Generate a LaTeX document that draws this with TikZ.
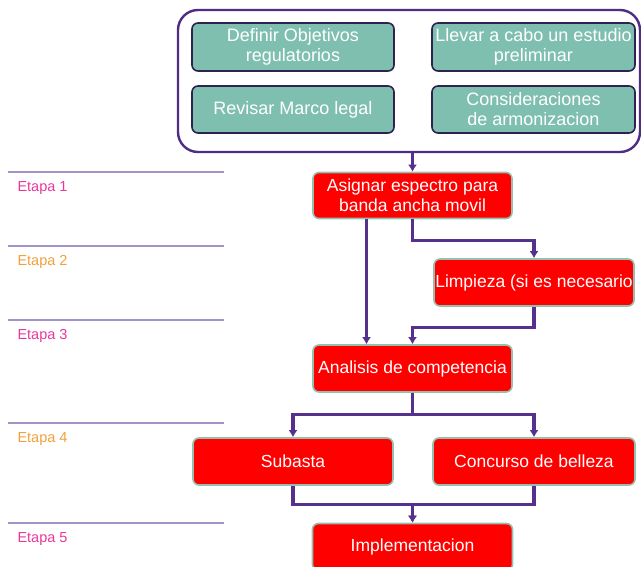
\documentclass[tikz,border=0pt]{standalone}
\usepackage{fontspec}
\setmainfont{Liberation Sans}
\usetikzlibrary{arrows.meta}

\definecolor{moradoflecha}{HTML}{55308C}
\definecolor{morado}{HTML}{4E2D84}
\definecolor{verdecaja}{HTML}{7FBFAF}
\definecolor{bordeoscuro}{HTML}{2C2350}
\definecolor{bordeclaro}{HTML}{95C0AE}
\definecolor{rosa}{HTML}{E8379A}
\definecolor{naranja}{HTML}{F0A03C}
\definecolor{lavanda}{HTML}{A393C8}

\tikzset{
	tarea/.style = {rectangle, rounded corners = 6pt, fill = verdecaja, draw = bordeoscuro, line width = 1.6pt,
		text = white, align = center, minimum height = 48pt, inner sep = 1pt,
		font = \fontsize{18}{20}\selectfont},
	paso/.style = {rectangle, rounded corners = 6pt, fill = red, draw = bordeclaro, line width = 1.6pt,
		text = white, align = center, minimum height = 46pt, inner sep = 1pt,
		font = \fontsize{17.5}{20}\selectfont},
	flecha/.style = {->, draw = moradoflecha, line width = 3.2pt},
}

\begin{document}
\begin{tikzpicture}[x = 1pt, y = -1pt, > = {Latex[length = 7pt, width = 9pt]}]

	\useasboundingbox (0, 0) rectangle (641, 567);
	\clip (0, 0) rectangle (641, 567);

	% Stage lines and labels

	\foreach \y / \n / \c in {172/1/rosa, 246/2/naranja, 320/3/rosa, 423/4/naranja, 523/5/rosa} {
		\draw [lavanda, line width = 1.3pt] (8, \y) -- (224, \y);
		\node [anchor = west, text = \c, font = \fontsize{14.5}{16}\selectfont] (etapa\n) at (14, \y + 16) {Etapa \n};
	}

	% Preparation group

	\node [rectangle, rounded corners = 20pt, draw = morado, line width = 2.4pt,
		minimum width = 462pt, minimum height = 142pt] (grupo) at (409, 81) {};
	\node [tarea, minimum width = 202pt] (objetivos) at (293, 47) {Definir Objetivos\\regulatorios};
	\node [tarea, minimum width = 203pt] (estudio) at (533.5, 47) {Llevar a cabo un estudio\\preliminar};
	\node [tarea, minimum width = 202pt, minimum height = 47pt] (marco) at (293, 109.5) {Revisar Marco legal};
	\node [tarea, minimum width = 203pt, minimum height = 47pt] (armonia) at (533.5, 109.5) {Consideraciones\\de armonizacion};

	% Process steps

	\node [paso, minimum width = 199pt] (asignar) at (412.5, 195.5) {Asignar espectro para\\banda ancha movil};
	\node [paso, minimum width = 200pt, minimum height = 47pt] (limpieza) at (534, 282.5) {Limpieza (si es necesario};
	\node [paso, minimum width = 199pt, minimum height = 47pt] (analisis) at (412.5, 368.5) {Analisis de competencia};
	\node [paso, minimum width = 200pt, minimum height = 47pt] (subasta) at (293, 461.5) {Subasta};
	\node [paso, minimum width = 202pt, minimum height = 47pt] (concurso) at (534, 461.5) {Concurso de belleza};
	\node [paso, minimum width = 200pt, minimum height = 47pt] (implementa) at (412.5, 547) {Implementacion};

	% Connectors

	\draw [flecha] (grupo.south -| asignar.north) -- (asignar.north);
	\draw [flecha] ([xshift = -46pt] asignar.south) -- ([xshift = -46pt] analisis.north);
	\draw [flecha] (asignar.south) -- ++(0, 21) -| (limpieza.north);
	\draw [flecha] (limpieza.south) -- ++(0, 21) -| (analisis.north);
	\draw [flecha] (analisis.south) -- ++(0, 22) -| (subasta.north);
	\draw [flecha] (analisis.south) -- ++(0, 22) -| (concurso.north);
	\draw [flecha] (subasta.south) -- ++(0, 19) -| (implementa.north);
	\draw [flecha] (concurso.south) -- ++(0, 19) -| (implementa.north);

\end{tikzpicture}
\end{document}
